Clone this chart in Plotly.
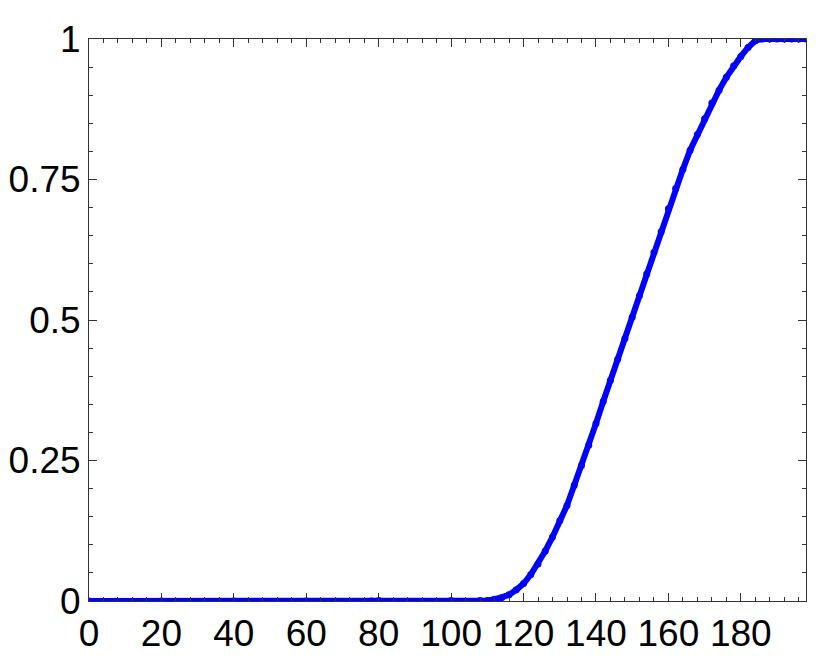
import plotly.graph_objects as go

# valores
x_vals = [0, 20, 40, 60, 78, 80, 100, 108, 110, 112, 114, 116, 118, 120, 122, 124,
          126, 128, 130, 132, 134, 136, 138, 140, 142, 144, 146, 148, 150,
          152, 154, 156, 158, 160, 162, 164, 166, 168, 170, 172, 174, 176,
          178, 180, 182, 184, 186, 188, 190, 192, 194, 196, 198]
y_vals = [0.0, 0.0, 0.0, 0.0, 0.0, 0.001, 0.001, 0.001, 0.001, 0.003, 0.006, 0.011, 0.02,
          0.031, 0.047, 0.066, 0.089, 0.114, 0.143, 0.170, 0.206, 0.241,
          0.277, 0.316, 0.355, 0.393, 0.430, 0.467, 0.505, 0.543, 0.582,
          0.62, 0.657, 0.698, 0.734, 0.768, 0.802, 0.83, 0.858, 0.886,
          0.909, 0.932, 0.952, 0.969, 0.985, 0.997, 1.0, 1.0, 1.0, 1.0,
          1.0, 1.0, 1.0]

x_ticks = [0, 20, 40, 60, 80, 100, 120, 140, 160, 180]
y_ticks = [0, 0.25, 0.5, 0.75, 1]
y_tick_text = ["0", "0.25", "0.5", "0.75", "1"]

fig = go.Figure()
fig.add_trace(go.Scatter(
    x=x_vals,
    y=y_vals,
    mode="lines+markers",
    line=dict(color="#0000ff", width=6),
    marker=dict(color="#0000ff", size=7),
    showlegend=False,
    cliponaxis=True,
))

eixo = dict(
    showgrid=False,
    zeroline=False,
    showline=True,
    linecolor="#333333",
    linewidth=1,
    mirror="allticks",
    ticks="inside",
    ticklen=8,
    tickwidth=1,
    tickcolor="#333333",
    automargin=False,
    tickfont=dict(family="Liberation Sans, Arial", size=37, color="black"),
)

fig.update_xaxes(
    **eixo,
    range=[0, 198],
    tickvals=x_ticks,
    minor=dict(dtick=4, tick0=0, ticks="inside", ticklen=4, tickcolor="#333333"),
)
fig.update_yaxes(
    **eixo,
    range=[0, 1],
    tickvals=y_ticks,
    ticktext=y_tick_text,
    minor=dict(dtick=0.05, tick0=0, ticks="inside", ticklen=4, tickcolor="#333333"),
)

# a página tem 8 px de margem no body
fig.update_layout(
    width=822,
    height=652,
    margin=dict(l=81, r=24, t=31, b=59),
    plot_bgcolor="white",
    paper_bgcolor="white",
)

fig.write_html("out.html")
